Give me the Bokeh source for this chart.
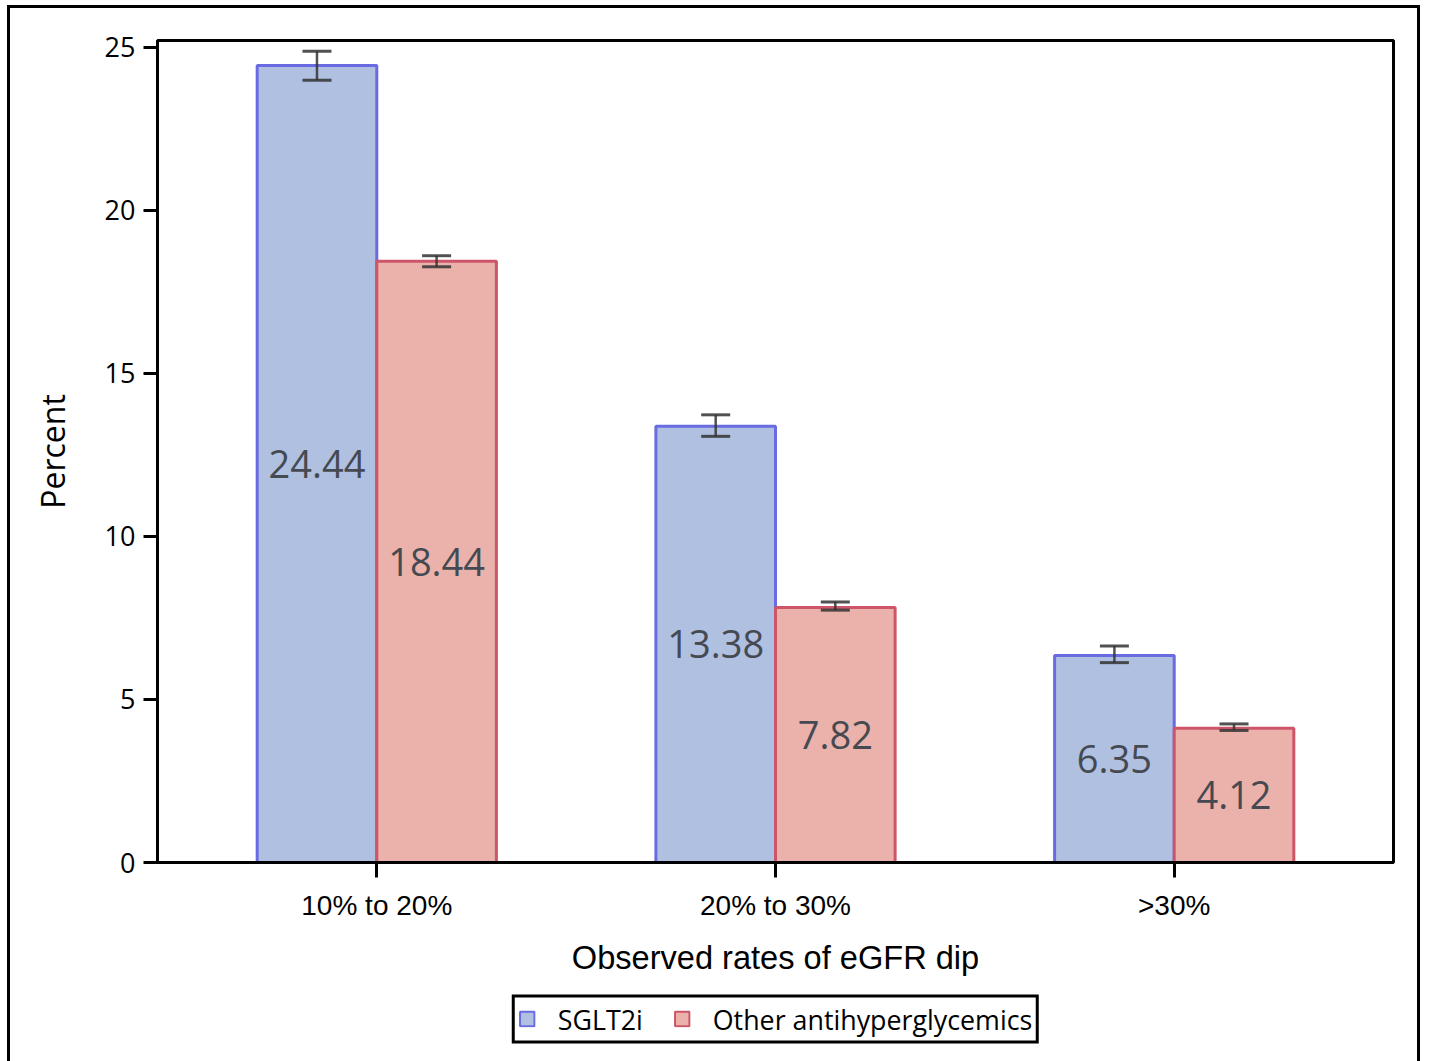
from bokeh.plotting import figure
from bokeh.layouts import column
from bokeh.models import (ColumnDataSource, FactorRange, Range1d, FixedTicker,
                          Whisker, TeeHead, Legend, LegendItem)
from bokeh.transform import dodge
from bokeh.core.properties import value
from bokeh.embed import file_html
from bokeh.resources import INLINE

# ---- data ----
categories = ["10% to 20%", "20% to 30%", ">30%"]
sglt2i = [24.44, 13.38, 6.35]
sglt2i_lower = [23.99, 13.07, 6.13]
sglt2i_upper = [24.88, 13.73, 6.64]
other = [18.44, 7.82, 4.12]
other_lower = [18.27, 7.74, 4.05]
other_upper = [18.61, 7.99, 4.25]
y_ticks = [0, 5, 10, 15, 20, 25]
series_names = ["SGLT2i", "Other antihyperglycemics"]

# ---- styles ----
BLUE_FILL, BLUE_LINE = "#b0c0e1", "#6a6ae2"
RED_FILL, RED_LINE = "#eab2aa", "#cd5569"
BAR_W = 0.3
OFF = 0.15

src_a = ColumnDataSource(dict(cat=categories, val=sglt2i, lo=sglt2i_lower, hi=sglt2i_upper,
                              mid=[v / 2 for v in sglt2i], lab=[f"{v:.2f}" for v in sglt2i]))
src_b = ColumnDataSource(dict(cat=categories, val=other, lo=other_lower, hi=other_upper,
                              mid=[v / 2 for v in other], lab=[f"{v:.2f}" for v in other]))

p = figure(x_range=FactorRange(*categories, range_padding=0.05, range_padding_units="absolute"),
           y_range=Range1d(0, 25.21),
           frame_width=1236, frame_height=822, output_backend="svg", toolbar_location=None,
           min_border_left=147, min_border_right=24, min_border_top=32, min_border_bottom=125)

p.background_fill_color = "white"
p.border_fill_color = "white"
p.outline_line_color = "black"
p.outline_line_width = 3
p.xgrid.visible = False
p.ygrid.visible = False

ra = p.vbar(x=dodge("cat", -OFF, range=p.x_range), top="val", bottom=0, width=BAR_W, source=src_a,
            fill_color=BLUE_FILL, line_color=BLUE_LINE, line_width=3)
rb = p.vbar(x=dodge("cat", OFF, range=p.x_range), top="val", bottom=0, width=BAR_W, source=src_b,
            fill_color=RED_FILL, line_color=RED_LINE, line_width=3)

for src, off in ((src_a, -OFF), (src_b, OFF)):
    w = Whisker(base=dodge("cat", off, range=p.x_range), upper="hi", lower="lo", source=src,
                dimension="height", line_color="#333333", line_width=2.5, line_alpha=0.85,
                level="overlay",
                upper_head=TeeHead(size=29, line_color="#333333", line_width=3, line_alpha=0.85),
                lower_head=TeeHead(size=29, line_color="#333333", line_width=3, line_alpha=0.85))
    p.add_layout(w)
    p.text(x=dodge("cat", off, range=p.x_range), y="mid", text="lab", source=src,
           text_align="center", text_baseline="middle", text_font=value("Open Sans"),
           text_font_size="38px", text_color="#454a52")

# axes
p.yaxis.ticker = FixedTicker(ticks=y_ticks)
for ax in (p.xaxis[0], p.yaxis[0]):
    ax.axis_line_width = 3
    ax.axis_line_color = "black"
    ax.major_tick_line_width = 3
    ax.major_tick_line_color = "black"
    ax.major_tick_in = 0
    ax.major_tick_out = 14
    ax.minor_tick_line_color = None
    ax.major_label_text_color = "black"
    ax.axis_label_text_color = "black"
    ax.axis_label_text_font_style = "normal"

p.yaxis.axis_label = "Percent"
p.yaxis.axis_label_text_font = "Open Sans"
p.yaxis.axis_label_text_font_size = "32px"
p.yaxis.major_label_text_font = "Open Sans"
p.yaxis.major_label_text_font_size = "27px"
p.yaxis.major_label_standoff = 8
p.yaxis.axis_label_standoff = 28

p.xaxis.axis_label = "Observed rates of eGFR dip"
p.xaxis.axis_label_text_font = "Liberation Sans"
p.xaxis.axis_label_text_font_size = "32.6px"
p.xaxis.major_label_text_font = "Liberation Sans"
p.xaxis.major_label_text_font_size = "28px"
p.xaxis.major_tick_out = 15
p.xaxis.major_label_standoff = 12
p.xaxis.axis_label_standoff = 15

# ---- legend strip (separate small figure under the chart) ----
# hidden copies of the bar renderers serve only as legend keys
lg = figure(x_range=FactorRange(*categories, range_padding=0.05, range_padding_units="absolute"),
            y_range=Range1d(-2, -1),
            frame_width=1236, frame_height=63, output_backend="svg", toolbar_location=None,
            x_axis_type=None, y_axis_type=None,
            min_border_left=147, min_border_right=24, min_border_top=0, min_border_bottom=15)
lg.outline_line_color = None
lg.xgrid.visible = False
lg.ygrid.visible = False
lg.background_fill_color = "white"
lg.border_fill_color = "white"
ka = lg.vbar(x=dodge("cat", -OFF, range=lg.x_range), top="val", bottom=0, width=BAR_W, source=src_a,
             fill_color=BLUE_FILL, line_color=BLUE_LINE, line_width=2)
kb = lg.vbar(x=dodge("cat", OFF, range=lg.x_range), top="val", bottom=0, width=BAR_W, source=src_b,
             fill_color=RED_FILL, line_color=RED_LINE, line_width=2)
ka.visible = False
kb.visible = False

legend = Legend(items=[LegendItem(label=series_names[0], renderers=[ka]),
                       LegendItem(label=series_names[1], renderers=[kb])],
                orientation="horizontal", location="center",
                border_line_color="black", border_line_width=3, border_line_alpha=1.0,
                label_text_font="Open Sans", label_text_font_size="26.8px",
                label_text_color="black", inactive_fill_alpha=0.0,
                glyph_width=18, glyph_height=18, spacing=30, padding=3,
                label_standoff=22, margin=0, background_fill_color="white")
lg.add_layout(legend)

page = column(p, lg, spacing=0,
              styles={"border": "3px solid black", "margin-left": "7px", "margin-top": "5px"})

open("out.html", "w").write(file_html(page, INLINE))
